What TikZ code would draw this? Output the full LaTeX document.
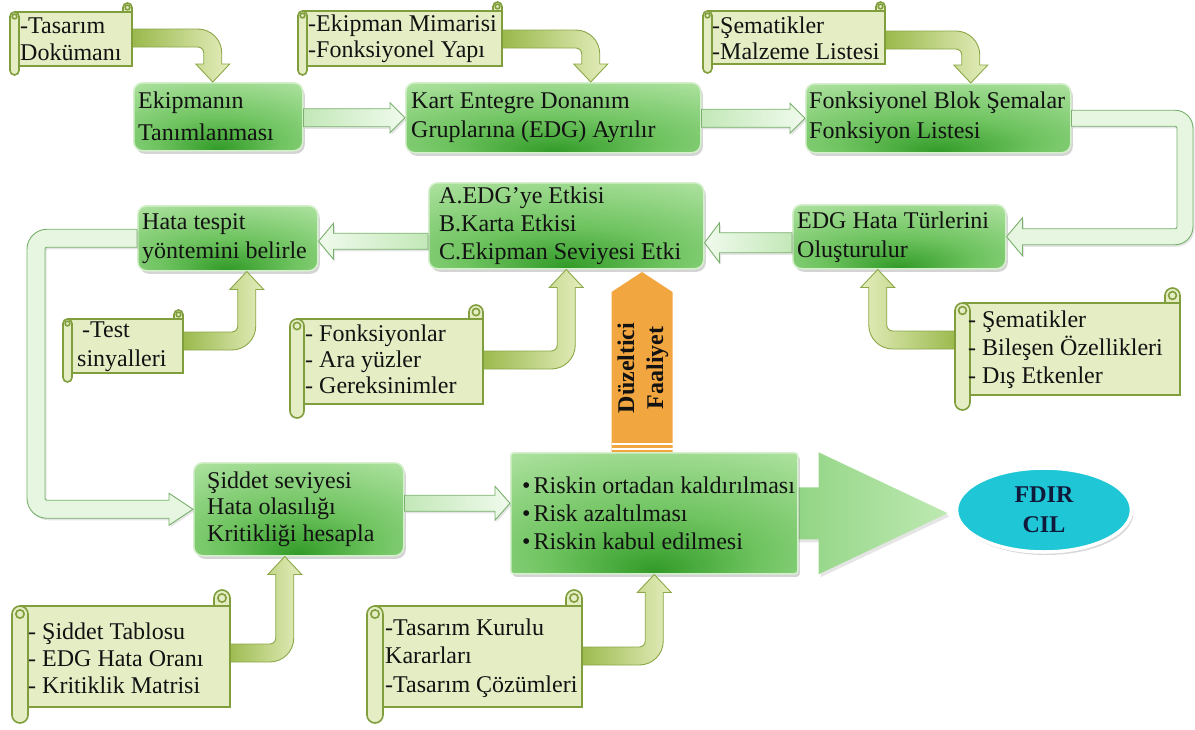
\documentclass[tikz,border=0pt]{standalone}
\usepackage{fontspec}
\setmainfont{Liberation Serif}
\usetikzlibrary{calc,shadows,shapes.geometric}

\definecolor{boxlight}{RGB}{184,231,170}
\definecolor{boxmid}{RGB}{110,195,95}
\definecolor{boxdark}{RGB}{50,155,40}
\definecolor{boxedge}{RGB}{214,240,206}
\definecolor{linktail}{RGB}{195,232,184}
\definecolor{linkhead}{RGB}{240,250,237}
\definecolor{linkedge}{RGB}{120,176,108}
\definecolor{loopfill}{RGB}{230,246,225}
\definecolor{sheetfill}{RGB}{229,237,196}
\definecolor{sheetedge}{RGB}{128,158,60}
\definecolor{feeddark}{RGB}{150,182,70}
\definecolor{feedlight}{RGB}{228,237,188}
\definecolor{feededge}{RGB}{140,168,72}
\definecolor{actionfill}{RGB}{242,166,64}
\definecolor{goalfill}{RGB}{30,198,214}
\definecolor{goaltext}{RGB}{16,26,58}
\definecolor{inktext}{RGB}{18,18,18}
\definecolor{bigfront}{RGB}{105,194,90}
\definecolor{bigtip}{RGB}{190,233,178}

\pgfdeclareradialshading{boxglow}{\pgfpoint{0bp}{-24bp}}{%
  color(0bp)=(boxdark); color(18bp)=(boxmid); color(48bp)=(boxlight); color(80bp)=(boxlight)}

\pgfdeclarelayer{paper}
\pgfdeclarelayer{behind}
\pgfsetlayers{paper,behind,main}

\tikzset{
  gbox/.style={rounded corners=9pt, shading=boxglow, draw=boxedge, line width=1.5pt,
    drop shadow={shadow xshift=2pt, shadow yshift=-3pt, opacity=0.3, fill=black!55},
    anchor=north west, inner sep=0pt},
  boxtext/.style={anchor=west, align=left, inner sep=0pt, text=inktext,
    font=\fontsize{24}{#1}\selectfont},
  boxtext/.default=29,
  sheet/.style={fill=sheetfill, draw=sheetedge, line width=1.6pt},
  sheettext/.style={anchor=west, align=left, inner sep=0pt, text=inktext,
    font=\fontsize{24}{#1}\selectfont},
  sheettext/.default=27,
  linkR/.style={left color=linktail, right color=linkhead, draw=linkedge, line width=0.9pt,
    drop shadow={shadow xshift=1.5pt, shadow yshift=-2pt, opacity=0.2}},
  linkL/.style={left color=linkhead, right color=linktail, draw=linkedge, line width=0.9pt,
    drop shadow={shadow xshift=1.5pt, shadow yshift=-2pt, opacity=0.2}},
  loopband/.style={fill=loopfill, draw=linkedge, line width=0.9pt,
    drop shadow={shadow xshift=1.5pt, shadow yshift=-2pt, opacity=0.2}},
  feedR/.style={left color=feeddark, right color=feedlight, draw=feededge, line width=0.9pt},
  feedL/.style={left color=feedlight, right color=feeddark, draw=feededge, line width=0.9pt},
}

% parchment sheet: #1,#2 top-left corner, #3,#4 bottom-right corner, #5 roll size
\newcommand{\scrollsheet}[5]{%
  \pgfmathsetmacro\scrollr{0.5*#5}%
  \pgfmathsetmacro\scrollq{0.26*#5}%
  \path[sheet, rounded corners=\scrollr pt] (#3-#5,#2) rectangle (#3,#2+2*#5);
  \path[sheet] (#1+\scrollr,#2+#5) rectangle (#3,#4-#5);
  \draw[sheetedge, line width=1.6pt] (#3-#5,#2+\scrollr) -- (#3-#5,#2+#5);
  \path[sheet, rounded corners=\scrollr pt] (#1,#2+#5) rectangle (#1+#5,#4);
  \path[sheet] (#3-\scrollr,#2+\scrollr) circle[radius=\scrollq];
  \path[sheet] (#1+\scrollr,#2+#5+\scrollr) circle[radius=\scrollq];
}

% straight block arrow: #1 style, #2 tail, #3 tip, #4 half body, #5 half head, #6 signed head length
\newcommand{\straightlink}[6]{%
  \path[#1] let \p1=(#2), \p2=(#3) in
    (\x1,\y2+#4) -- ({\x2-(#6)},\y2+#4) -- ({\x2-(#6)},\y2+#5) -- (\x2,\y2)
    -- ({\x2-(#6)},\y2-#5) -- ({\x2-(#6)},\y2-#4) -- (\x1,\y2-#4) -- cycle;}

% bent feed arrows from a sheet to a box
\def\fb{9pt}\def\fR{24pt}\def\fr{6pt}\def\fh{17pt}\def\fl{18pt}
\newcommand{\feeddown}[3]{%
  \path[#1] let \p1=(#2), \p2=(#3) in
    (\x1,\y1+\fb) -- (\x2+\fb-\fR,\y1+\fb) arc[start angle=90,end angle=0,radius=\fR]
    -- (\x2+\fb,\y2+\fl) -- (\x2+\fh,\y2+\fl) -- (\x2,\y2) -- (\x2-\fh,\y2+\fl)
    -- (\x2-\fb,\y2+\fl) -- (\x2-\fb,\y1-\fb-\fr) arc[start angle=0,end angle=90,radius=\fr]
    -- (\x1,\y1-\fb) -- cycle;}
\newcommand{\feedup}[3]{%
  \path[#1] let \p1=(#2), \p2=(#3) in
    (\x1,\y1-\fb) -- (\x2+\fb-\fR,\y1-\fb) arc[start angle=-90,end angle=0,radius=\fR]
    -- (\x2+\fb,\y2-\fl) -- (\x2+\fh,\y2-\fl) -- (\x2,\y2) -- (\x2-\fh,\y2-\fl)
    -- (\x2-\fb,\y2-\fl) -- (\x2-\fb,\y1+\fb+\fr) arc[start angle=0,end angle=-90,radius=\fr]
    -- (\x1,\y1+\fb) -- cycle;}
\newcommand{\feedleftup}[3]{%
  \path[#1] let \p1=(#2), \p2=(#3) in
    (\x1,\y1-\fb) -- (\x2-\fb+\fR,\y1-\fb) arc[start angle=-90,end angle=-180,radius=\fR]
    -- (\x2-\fb,\y2-\fl) -- (\x2-\fh,\y2-\fl) -- (\x2,\y2) -- (\x2+\fh,\y2-\fl)
    -- (\x2+\fb,\y2-\fl) -- (\x2+\fb,\y1+\fb+\fr) arc[start angle=180,end angle=270,radius=\fr]
    -- (\x1,\y1+\fb) -- cycle;}

\begin{document}
\begin{tikzpicture}[x=1pt, y=-1pt]
\useasboundingbox (0,0) rectangle (1195,729);
\begin{pgfonlayer}{paper}
  \fill[white] (0,0) rectangle (1195,729);
\end{pgfonlayer}

% ---------- process boxes ----------
\node[gbox, minimum width=169pt, minimum height=68pt] (b1) at (133,82) {};
\node[gbox, minimum width=295pt, minimum height=70pt] (b2) at (405,82) {};
\node[gbox, minimum width=265pt, minimum height=69pt] (b3) at (805,83) {};
\node[gbox, minimum width=213pt, minimum height=64pt] (b4) at (792,204) {};
\node[gbox, minimum width=275pt, minimum height=86pt] (b5) at (428,182) {};
\node[gbox, minimum width=180pt, minimum height=65pt] (b6) at (137,205) {};
\node[gbox, minimum width=210pt, minimum height=93pt] (b7) at (193,462) {};
\node[gbox, rounded corners=3pt, minimum width=287pt, minimum height=121pt] (b8) at (510,452) {};

\node[boxtext=32] (b1t) at ([xshift=5pt]b1.west) {Ekipmanın\\Tanımlanması};
\node[boxtext] (b2t) at ([xshift=6pt]b2.west) {Kart Entegre Donanım\\Gruplarına (EDG) Ayrılır};
\node[boxtext=30] (b3t) at ([xshift=4pt]b3.west) {Fonksiyonel Blok Şemalar\\Fonksiyon Listesi};
\node[boxtext] (b4t) at ([xshift=5pt]b4.west) {EDG Hata Türlerini\\Oluşturulur};
\node[boxtext=28] (b5t) at ([xshift=11pt]b5.west) {A.EDG’ye Etkisi\\B.Karta Etkisi\\C.Ekipman Seviyesi Etki};
\node[boxtext] (b6t) at ([xshift=5pt]b6.west) {Hata tespit\\yöntemini belirle};
\node[boxtext=26.5] (b7t) at ([xshift=14pt]b7.west) {Şiddet seviyesi\\Hata olasılığı\\Kritikliği hesapla};
\node[boxtext=28] (b8t) at ([xshift=12pt]b8.west)
  {•\hspace{3pt}Riskin ortadan kaldırılması\\•\hspace{3pt}Risk azaltılması\\•\hspace{3pt}Riskin kabul edilmesi};

% ---------- result ----------
\node[ellipse, minimum width=175pt, minimum height=84pt, inner sep=0pt, fill=goalfill,
  draw=white, line width=3.5pt,
  drop shadow={shadow xshift=2pt, shadow yshift=-3pt, opacity=0.3},
  font=\bfseries\fontsize{24}{30}\selectfont, text=goaltext, align=center] (fdir) at (1044,510) {FDIR\\CIL};

% ---------- big arrow carrying the risk box ----------
\begin{pgfonlayer}{behind}
  \path[left color=bigfront, right color=bigtip,
    drop shadow={shadow xshift=2pt, shadow yshift=-3pt, opacity=0.2}]
    let \p1=(b8.center), \p2=(fdir.west), \p3=(b8.east) in
    (\x1,\y1+26pt) -- (\x3+20pt,\y1+26pt) -- (\x3+20pt,\y1+61pt) -- (\x2-7pt,\y1)
    -- (\x3+20pt,\y1-61pt) -- (\x3+20pt,\y1-26pt) -- (\x1,\y1-26pt) -- cycle;
  % corrective action arrow
  \coordinate (fixfoot) at (642,452);
  \coordinate (fixtip) at (642,272);
  \path[fill=actionfill] let \p1=(fixfoot), \p2=(fixtip) in
    (\x1-30.5pt,\y1) -- (\x1-30.5pt,\y2-20pt) -- (\x2,\y2) -- (\x1+30.5pt,\y2-20pt)
    -- (\x1+30.5pt,\y1) -- cycle;
  \fill[white] (611.5,442.5) rectangle (672.5,445);
  \fill[white] (611.5,447.5) rectangle (672.5,450);
\end{pgfonlayer}
\node[rotate=90, align=center, inner sep=0pt, text=inktext,
  font=\bfseries\fontsize{24}{29}\selectfont] (fix) at (643,368) {Düzeltici\\Faaliyet};

% ---------- straight links ----------
\straightlink{linkR}{b1.east}{b2.west}{9pt}{15pt}{15pt}
\straightlink{linkR}{b2.east}{b3.west}{9pt}{15pt}{15pt}
\straightlink{linkL}{b4.west}{$(b5.east)+(0,17)$}{10pt}{20pt}{-15pt}
\straightlink{linkL}{b5.west}{$(b6.east)+(0,3)$}{8pt}{18pt}{-15pt}
\straightlink{linkR}{b7.east}{$(b8.west)+(0,-10)$}{8pt}{17pt}{15pt}

% ---------- loop from the block diagrams down to the failure modes ----------
\path[loopband] let \p1=(b3.east), \p2=(b4.east) in
  (\x1,\y1+8pt) -- (1175pt,\y1+8pt) arc[start angle=90,end angle=0,radius=18pt]
  -- (1193pt,\y2-8pt+18pt) arc[start angle=0,end angle=-90,radius=18pt]
  -- (\x2+16pt,\y2-8pt) -- (\x2+16pt,\y2-19pt) -- (\x2,\y2) -- (\x2+16pt,\y2+19pt)
  -- (\x2+16pt,\y2+8pt) -- (1175pt,\y2+8pt) arc[start angle=-90,end angle=0,radius=2pt]
  -- (1177pt,\y1-8pt-2pt) arc[start angle=0,end angle=90,radius=2pt]
  -- (\x1,\y1-8pt) -- cycle;

% ---------- loop from the detection method down to the criticality box ----------
\path[loopband] let \p1=(b6.west), \p2=(b7.west) in
  (\x1,\y1+9pt) -- (27pt+20pt,\y1+9pt) arc[start angle=90,end angle=180,radius=20pt]
  -- (27pt,\y2-9pt+20pt) arc[start angle=180,end angle=270,radius=20pt]
  -- (\x2-24pt,\y2-9pt) -- (\x2-24pt,\y2-16pt) -- (\x2,\y2) -- (\x2-24pt,\y2+16pt)
  -- (\x2-24pt,\y2+9pt) -- (45pt+2pt,\y2+9pt) arc[start angle=270,end angle=180,radius=2pt]
  -- (45pt,\y1-9pt-2pt) arc[start angle=180,end angle=90,radius=2pt]
  -- (\x1,\y1-9pt) -- cycle;

% ---------- feeds from the input sheets ----------
\coordinate (s1out) at (127,38);
\coordinate (s2out) at (497,39);
\coordinate (s3out) at (880,40);
\coordinate (s4out) at (178,341);
\coordinate (s5out) at (476,360);
\coordinate (s6out) at (962,340);
\coordinate (s7out) at (222,653);
\coordinate (s8out) at (574,656);
\feeddown{feedR}{s1out}{$(b1.north)+(-5.5,0)$}
\feeddown{feedR}{s2out}{$(b2.north)+(37.5,0)$}
\feeddown{feedR}{s3out}{$(b3.north)+(32.5,0)$}
\feedup{feedR}{s4out}{$(b6.south)+(19,0)$}
\feedup{feedR}{s5out}{b5.south}
\feedleftup{feedL}{s6out}{$(b4.south)+(-21.5,0)$}
\feedup{feedR}{s7out}{$(b7.south)+(-14,0)$}
\feedup{feedR}{s8out}{b8.south}

% ---------- input sheets ----------
\scrollsheet{10}{3}{132}{75}{9}
\scrollsheet{298}{2}{502}{75}{9}
\scrollsheet{703}{2}{885}{73}{9}
\scrollsheet{63}{310}{183}{382}{9}
\scrollsheet{290}{305}{483}{418}{14}
\scrollsheet{955}{288}{1180}{410}{15}
\scrollsheet{12}{590}{230}{723}{16}
\scrollsheet{367}{590}{582}{723}{16}

\node[sheettext] (s1) at (20,39) {-Tasarım\\Dokümanı};
\node[sheettext=26] (s2) at (308,38.5) {-Ekipman Mimarisi\\-Fonksiyonel Yapı};
\node[sheettext=26] (s3) at (712,38) {-Şematikler\\-Malzeme Listesi};
\node[sheettext=29] (s4) at (77,347) {\hspace{5pt}-Test\\sinyalleri};
\node[sheettext=26] (s5) at (305,359) {- Fonksiyonlar\\- Ara yüzler\\- Gereksinimler};
\node[sheettext=28] (s6) at (968,350) {- Şematikler\\- Bileşen Özellikleri\\- Dış Etkenler};
\node[sheettext=27] (s7) at (28,658) {- Şiddet Tablosu\\- EDG Hata Oranı\\- Kritiklik Matrisi};
\node[sheettext=28.5] (s8) at (385,658) {-Tasarım Kurulu\\Kararları\\-Tasarım Çözümleri};
\end{tikzpicture}
\end{document}
